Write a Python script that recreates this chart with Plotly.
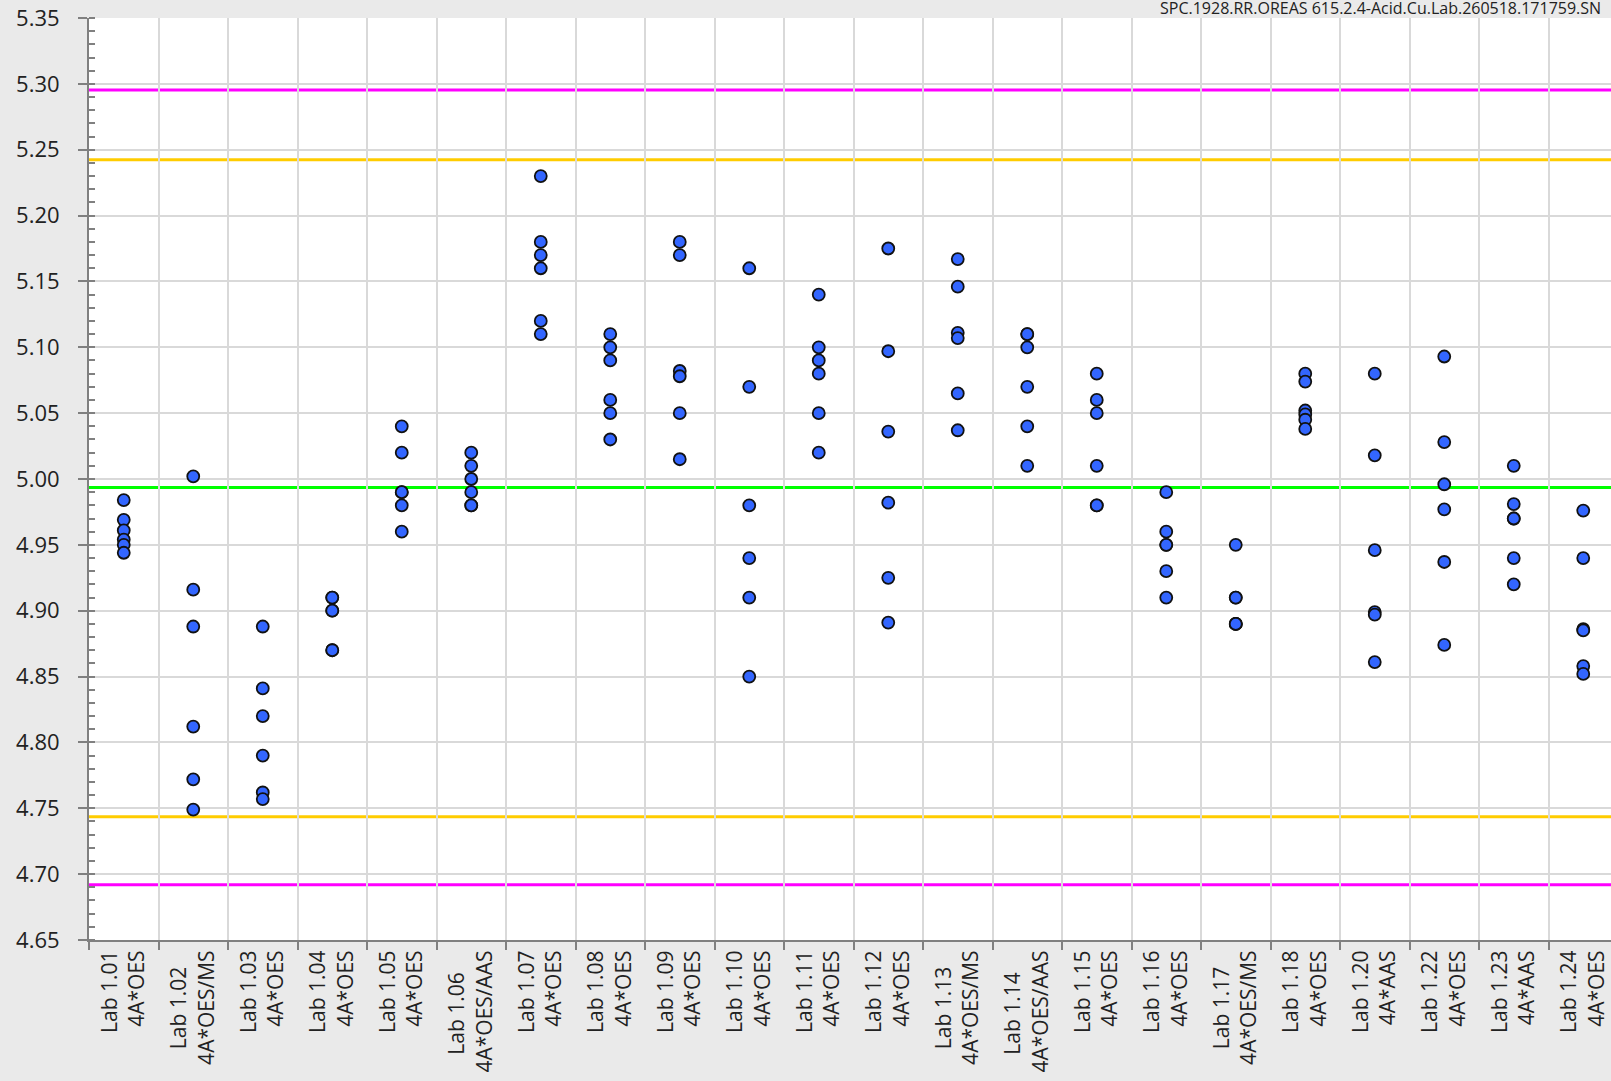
import plotly.graph_objects as go

labs = ["Lab 1.01", "Lab 1.02", "Lab 1.03", "Lab 1.04", "Lab 1.05", "Lab 1.06",
        "Lab 1.07", "Lab 1.08", "Lab 1.09", "Lab 1.10", "Lab 1.11", "Lab 1.12",
        "Lab 1.13", "Lab 1.14", "Lab 1.15", "Lab 1.16", "Lab 1.17", "Lab 1.18",
        "Lab 1.20", "Lab 1.22", "Lab 1.23", "Lab 1.24"]
methods = ["4A*OES", "4A*OES/MS", "4A*OES", "4A*OES", "4A*OES", "4A*OES/AAS",
           "4A*OES", "4A*OES", "4A*OES", "4A*OES", "4A*OES", "4A*OES",
           "4A*OES/MS", "4A*OES/AAS", "4A*OES", "4A*OES", "4A*OES/MS", "4A*OES",
           "4A*AAS", "4A*OES", "4A*AAS", "4A*OES"]

values = [
    [4.984, 4.969, 4.961, 4.954, 4.950, 4.944],
    [5.002, 4.916, 4.888, 4.812, 4.772, 4.749],
    [4.888, 4.841, 4.820, 4.790, 4.762, 4.757],
    [4.910, 4.910, 4.900, 4.900, 4.870, 4.870],
    [5.040, 5.020, 4.990, 4.990, 4.980, 4.960],
    [5.020, 5.010, 5.000, 4.990, 4.980, 4.980],
    [5.230, 5.180, 5.170, 5.160, 5.120, 5.110],
    [5.110, 5.100, 5.090, 5.060, 5.050, 5.030],
    [5.180, 5.170, 5.082, 5.078, 5.050, 5.015],
    [5.160, 5.070, 4.980, 4.940, 4.910, 4.850],
    [5.140, 5.100, 5.090, 5.080, 5.050, 5.020],
    [5.175, 5.097, 5.036, 4.982, 4.925, 4.891],
    [5.167, 5.146, 5.111, 5.107, 5.065, 5.037],
    [5.110, 5.110, 5.100, 5.070, 5.040, 5.010],
    [5.080, 5.060, 5.050, 5.010, 4.980, 4.980],
    [4.990, 4.960, 4.950, 4.950, 4.930, 4.910],
    [4.950, 4.910, 4.910, 4.890, 4.890, 4.890],
    [5.080, 5.074, 5.052, 5.049, 5.045, 5.038],
    [5.080, 5.018, 4.946, 4.899, 4.897, 4.861],
    [5.093, 5.028, 4.996, 4.977, 4.937, 4.874],
    [5.010, 4.981, 4.970, 4.970, 4.940, 4.920],
    [4.976, 4.940, 4.886, 4.885, 4.858, 4.852],
]

ref_values = [5.2954, 5.2424, 4.9935, 4.7436, 4.6920]
ref_colors = ["#ff00ff", "#ffcc00", "#00ff00", "#ffcc00", "#ff00ff"]

title_text = "SPC.1928.RR.OREAS 615.2.4-Acid.Cu.Lab.260518.171759.SN"

y_min, y_max = 4.65, 5.35

# non-breaking spaces so the shorter first line sits centred against a longer method line
pad_for_method = {"4A*OES/MS": 3, "4A*OES/AAS": 4}
cats = [f"{l}{chr(160) * pad_for_method.get(m, 0)}<br>{m}" for l, m in zip(labs, methods)]
xs, ys = [], []
for c, vals in zip(cats, values):
    for v in vals:
        xs.append(c)
        ys.append(v)

fig = go.Figure()
fig.add_trace(go.Scatter(
    x=xs, y=ys, mode="markers",
    marker=dict(size=12, color="#3366ff", line=dict(color="#111111", width=1.8)),
    showlegend=False, cliponaxis=False,
))

shapes = []
for v, col in zip(ref_values, ref_colors):
    shapes.append(dict(type="line", xref="paper", x0=0, x1=1, yref="y", y0=v, y1=v,
                       line=dict(color=col, width=3), layer="between"))

W, H = 1611, 1081
ml, mt, mb = 89, 18, 141
cat_w = 69.5
x_right = (W - ml) / cat_w - 0.5

fig.update_layout(
    width=W, height=H,
    margin=dict(l=ml, r=0, t=mt, b=mb, pad=0),
    paper_bgcolor="#eaeaea", plot_bgcolor="#ffffff",
    font=dict(family="Open Sans", size=21, color="#222222"),
    shapes=shapes,
    xaxis=dict(
        type="category", categoryorder="array", categoryarray=cats,
        range=[-0.5, x_right], tickson="boundaries",
        showgrid=True, gridcolor="#d9d9d9", gridwidth=2,
        showline=True, linecolor="#808080", linewidth=2,
        ticks="outside", ticklen=8, tickwidth=2, tickcolor="#808080",
        tickangle=-90, tickfont=dict(size=21, color="#222222"),
        zeroline=False,
    ),
    yaxis=dict(
        range=[y_min, y_max], dtick=0.05, tick0=4.65, tickformat=".2f",
        showgrid=True, gridcolor="#d9d9d9", gridwidth=2,
        showline=True, linecolor="#808080", linewidth=2,
        ticks="outside", ticklen=9, tickwidth=2, tickcolor="#808080",
        ticklabelstandoff=14,
        tickfont=dict(size=22, color="#222222"),
        minor=dict(dtick=0.01, ticks="inside", ticklen=6, tickwidth=2,
                   tickcolor="#808080", showgrid=False),
        zeroline=False,
    ),
    annotations=[dict(
        text=title_text, xref="paper", yref="paper",
        x=(1158 - ml) / (W - ml), y=1, xanchor="left", yanchor="bottom",
        yshift=-3, showarrow=False, font=dict(size=16, color="#222222"),
    )],
)

fig.write_html("out.html", config={"displayModeBar": False},
               post_script="document.body.style.margin='0';document.body.style.overflow='hidden';")
